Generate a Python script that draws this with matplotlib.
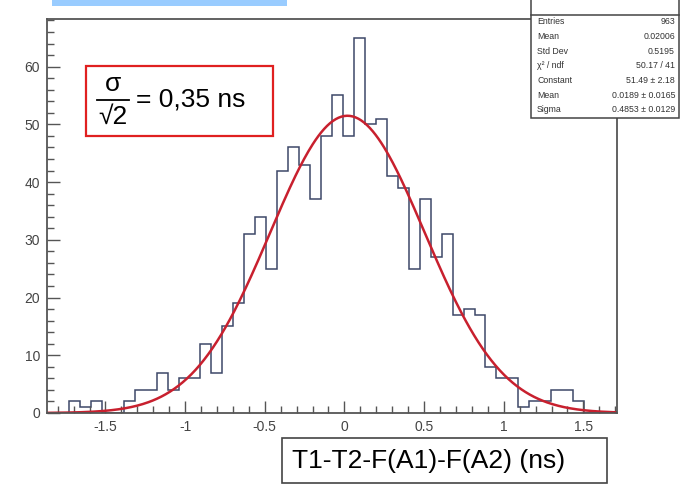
import numpy as np
import matplotlib.pyplot as plt
from matplotlib.patches import Rectangle
from matplotlib.lines import Line2D
from matplotlib.ticker import MultipleLocator

plt.rcParams['font.family'] = ['Liberation Sans', 'DejaVu Sans']

# histogram (52 bins)
x_lo, x_hi = -1.867, 1.711
counts = [0, 0, 2, 1, 2, 0, 0, 2, 4, 4, 7, 4, 6, 6, 12, 7, 15, 19, 31, 34,
          25, 42, 46, 43, 37, 48, 55, 48, 65, 50, 51, 41, 39, 25, 37, 27, 31, 17, 18, 17,
          8, 6, 6, 1, 2, 2, 4, 4, 2, 0, 0, 0]
edges = np.linspace(x_lo, x_hi, len(counts) + 1)

# gaussian fit parameters
fit_const, fit_mean, fit_sigma = 51.49, 0.0189, 0.4853

xtick_vals = [-1.5, -1, -0.5, 0, 0.5, 1, 1.5]
xtick_labels = ["-1.5", "-1", "-0.5", "0", "0.5", "1", "1.5"]
ytick_vals = [0, 10, 20, 30, 40, 50, 60]

stats_labels = ["Entries", "Mean", "Std Dev", "\u03c7\u00b2 / ndf", "Constant", "Mean", "Sigma"]
stats_values = ["963", "0.02006", "0.5195", "50.17 / 41", "51.49 \u00b1 2.18",
                "0.0189 \u00b1 0.0165", "0.4853 \u00b1 0.0129"]

W, H = 680, 491
fig = plt.figure(figsize=(6.8, 4.91), dpi=100)

def fx(px):
    return px / W

def fy(py):
    return 1 - py / H

ax = fig.add_axes([fx(47), fy(413), fx(617) - fx(47), fy(19) - fy(413)])
ax.stairs(counts, edges, color='#3d4868', lw=1.1)
xf = np.linspace(x_lo, x_hi, 400)
ax.plot(xf, fit_const * np.exp(-0.5 * ((xf - fit_mean) / fit_sigma) ** 2), color='#c8202e', lw=1.8)

ax.set_xlim(x_lo, x_hi)
ax.set_ylim(0, 68.25)
ax.set_xticks(xtick_vals, xtick_labels)
ax.set_yticks(ytick_vals)
ax.xaxis.set_minor_locator(MultipleLocator(0.1))
ax.yaxis.set_minor_locator(MultipleLocator(2))
ax.tick_params(which='both', direction='in', colors='#555555', labelcolor='#444444', labelsize=10)
ax.tick_params(which='major', length=9, width=1, pad=5)
ax.tick_params(which='minor', length=5, width=1)
for s in ax.spines.values():
    s.set_color('#555555')
    s.set_linewidth(1.3)

# light blue bar at the top
fig.patches.append(Rectangle((fx(52), fy(6)), fx(287) - fx(52), fy(0) - fy(6),
                             transform=fig.transFigure, facecolor='#99ccff', edgecolor='none'))

# stats box
fig.patches.append(Rectangle((fx(531), fy(118)), fx(679) - fx(531), fy(-2) - fy(118),
                             transform=fig.transFigure, facecolor='white', edgecolor='#444444', lw=1.1, zorder=5))
fig.lines.append(Line2D([fx(531), fx(679)], [fy(15), fy(15)], transform=fig.transFigure,
                        color='#444444', lw=1.1, zorder=6))
for i, (lab, val) in enumerate(zip(stats_labels, stats_values)):
    yy = fy(22 + i * 14.6)
    fig.text(fx(537), yy, lab, fontsize=6.3, color='#333333', va='center', ha='left', zorder=7)
    fig.text(fx(675), yy, val, fontsize=6.3, color='#333333', va='center', ha='right', zorder=7)

# red annotation box
fig.patches.append(Rectangle((fx(86), fy(136)), fx(273) - fx(86), fy(66) - fy(136),
                             transform=fig.transFigure, facecolor='white', edgecolor='#e02020', lw=1.6, zorder=5))
fig.text(fx(113), fy(84), "\u03c3", fontsize=19, ha='center', va='center', zorder=6)
fig.lines.append(Line2D([fx(97), fx(129)], [fy(99.5), fy(99.5)], transform=fig.transFigure,
                        color='black', lw=1.3, zorder=6))
fig.text(fx(113), fy(117), "\u221a2", fontsize=19, ha='center', va='center', zorder=6)
fig.text(fx(136), fy(100), "= 0,35 ns", fontsize=19, ha='left', va='center', zorder=6)

# x axis title box
fig.patches.append(Rectangle((fx(282), fy(483)), fx(607) - fx(282), fy(438) - fy(483),
                             transform=fig.transFigure, facecolor='white', edgecolor='#444444', lw=1.2))
fig.text(fx(292), fy(461), "T1-T2-F(A1)-F(A2) (ns)", fontsize=19, ha='left', va='center')

fig.savefig('out.png', dpi=100)
